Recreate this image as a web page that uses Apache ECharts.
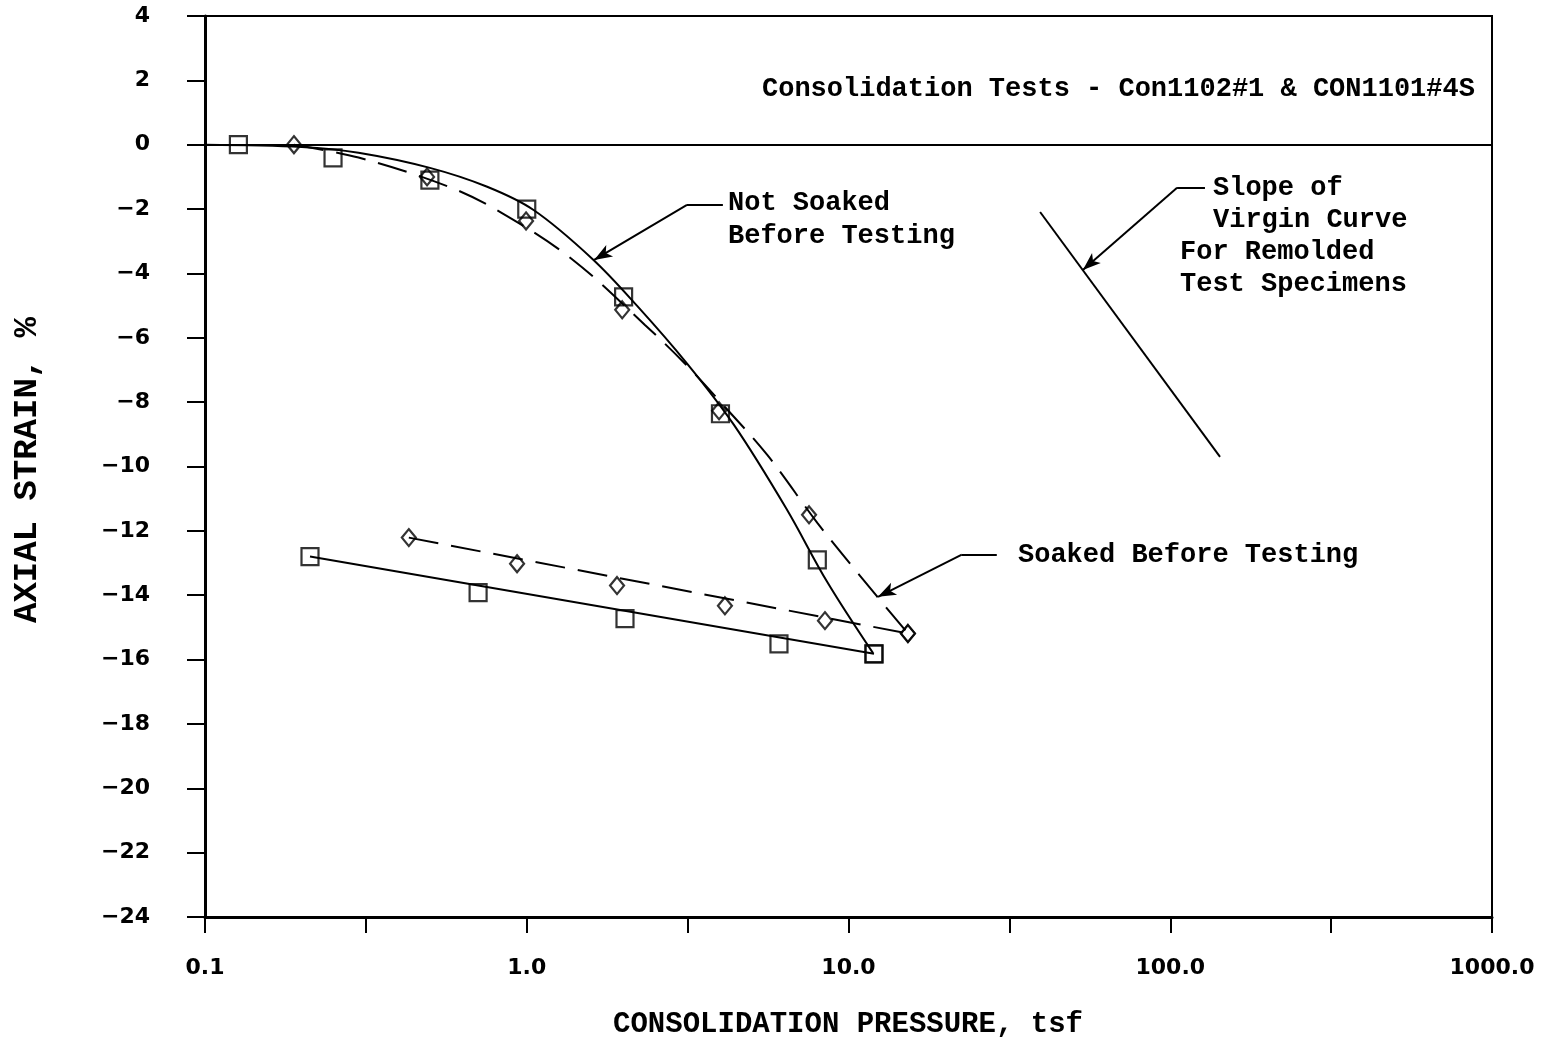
<!DOCTYPE html>
<html><head><meta charset="utf-8">
<script src="https://cdn.jsdelivr.net/npm/echarts@6/dist/echarts.min.js"></script>
<style>html,body{margin:0;padding:0;background:#fff}#c{width:1547px;height:1040px}</style>
</head><body><div id="c"></div>
<script>
// ---- data ----
// Con1102#1 (squares): loading and rebound test points
const sqLoadX = [0.127, 0.25, 0.5, 1.0, 2.0, 4.0, 8.0, 12.0];
const sqLoadY = [0, -0.41, -1.1, -2.0, -4.73, -8.36, -12.9, -15.82];
const sqUnloadX = [0.212, 0.706, 2.02, 6.08, 12.0];
const sqUnloadY = [-12.8, -13.92, -14.73, -15.51, -15.82];
// CON1101#4S (diamonds)
const dmLoadX = [0.189, 0.49, 0.995, 1.98, 3.96, 7.54, 15.3];
const dmLoadY = [0, -1.0, -2.37, -5.13, -8.27, -11.5, -15.19];
const dmUnloadX = [0.43, 0.933, 1.908, 4.13, 8.45, 15.3];
const dmUnloadY = [-12.21, -13.02, -13.7, -14.33, -14.79, -15.19];
// hand-fitted curves (solid = squares, dashed = diamonds)
const solidCurveX = [0.1, 0.2, 0.3, 0.5, 0.75, 1.05, 1.6, 2.2, 3.15, 4.4, 6.4, 8.6, 11.92];
const solidCurveY = [0, -0.07, -0.25, -0.72, -1.3, -2.03, -3.55, -5.0, -6.8, -8.7, -11.3, -13.6, -15.8];
const dashCurveX = [0.189, 0.3, 0.57, 0.83, 1.38, 2.33, 3.1, 4.13, 5.6, 8.0, 10.6, 15.3];
const dashCurveY = [0, -0.4, -1.3, -2.1, -3.55, -5.6, -6.8, -8.15, -9.65, -11.75, -13.27, -15.19];
const solidReboundX = [0.212, 12.0];
const solidReboundY = [-12.8, -15.82];
const dashReboundX = [0.43, 15.3];
const dashReboundY = [-12.21, -15.19];
// slope of virgin curve for remolded specimens
const virginX = [39.4, 142.8];
const virginY = [-2.09, -9.70];
// leader arrows: [kneeX, kneeY, tailX, tipX, tipY]
const arrowNotSoaked = [3.148, -1.87, 4.07, 1.62, -3.58];
const arrowSoaked = [22.5, -12.74, 28.9, 12.35, -14.05];
const arrowVirgin = [105, -1.34, 128.2, 53.5, -3.89];
// tick labels / tick positions
const xTickLabels = ['0.1', '1.0', '10.0', '100.0', '1000.0'];
const xHalfDecadeStep = 0.5; // tick every half decade (in log10 units)
const yMin = -24, yMax = 4, yStep = 2;

const pairs = (xs, ys) => xs.map((x, i) => [x, ys[i]]);
const BLK = '#000';
const MONO = '"Liberation Mono", "DejaVu Sans Mono", monospace';
const SANS = '"DejaVu Sans", sans-serif';

function leader(a) {
  return [
    [{coord: [a[2], a[1]], symbol: 'none'}, {coord: [a[0], a[1]], symbol: 'none'}],
    [{coord: [a[0], a[1]], symbol: 'none'}, {coord: [a[3], a[4]], symbol: 'arrow', symbolSize: [10, 18]}]
  ];
}

const chart = echarts.init(document.getElementById('c'), null, {renderer: 'canvas'});
const markerSq = {symbol: 'rect', symbolSize: 17, itemStyle: {color: 'rgba(255,255,255,0)', borderColor: BLK, borderWidth: 2.2}};
const markerDm = {symbol: 'diamond', symbolSize: [14, 17], itemStyle: {color: 'rgba(255,255,255,0)', borderColor: BLK, borderWidth: 2.2}};
const LBL = '27px ';

const option = {
  animation: false,
  backgroundColor: '#fff',
  grid: {left: 205, right: 55, top: 16, bottom: 123, show: true, borderColor: BLK, borderWidth: 2, backgroundColor: 'transparent'},
  xAxis: [{
    type: 'log', logBase: 10, min: 0.1, max: 1000,
    axisLine: {show: true, onZero: false, lineStyle: {color: BLK, width: 3}},
    axisTick: {show: true, inside: false, length: 16, lineStyle: {color: BLK, width: 2}},
    minorTick: {show: false},
    splitLine: {show: false},
    axisLabel: {margin: 40, color: BLK, fontFamily: SANS, fontWeight: 'bold', fontSize: 22,
      formatter: v => xTickLabels[Math.round(Math.log10(v)) + 1] || ''}
  }, {
    // same scale expressed as log10(pressure): only used for the half-decade ticks
    type: 'value', position: 'bottom', min: -1, max: 3, interval: xHalfDecadeStep,
    axisLine: {show: false, onZero: false}, axisLabel: {show: false}, splitLine: {show: false},
    axisTick: {show: true, inside: false, length: 16, lineStyle: {color: BLK, width: 2}}
  }],
  yAxis: {
    type: 'value', min: yMin, max: yMax, interval: yStep,
    axisLine: {show: true, onZero: false, lineStyle: {color: BLK, width: 3}},
    axisTick: {show: true, inside: false, length: 18, lineStyle: {color: BLK, width: 2}},
    splitLine: {show: false},
    axisLabel: {margin: 55, color: BLK, fontFamily: SANS, fontWeight: 'bold', fontSize: 22,
      formatter: v => String(v).replace('-', '\u2212')}
  },
  series: [
    {type: 'line', data: pairs(solidCurveX, solidCurveY), smooth: 0.35, showSymbol: false,
      lineStyle: {color: BLK, width: 2}, z: 3,
      markLine: {silent: true, symbol: ['none', 'none'], label: {show: false},
        lineStyle: {color: BLK, width: 2, type: 'solid'}, data: [{yAxis: 0}]}},
    {type: 'line', data: pairs(dashCurveX, dashCurveY), smooth: 0.35, showSymbol: false,
      lineStyle: {color: BLK, width: 2, type: [30, 13]}, z: 3},
    {type: 'line', data: pairs(solidReboundX, solidReboundY), showSymbol: false, lineStyle: {color: BLK, width: 2}, z: 3},
    {type: 'line', data: pairs(dashReboundX, dashReboundY), showSymbol: false, lineStyle: {color: BLK, width: 2, type: [30, 13]}, z: 3},
    {type: 'line', data: pairs(virginX, virginY), showSymbol: false, lineStyle: {color: BLK, width: 2}, z: 3,
      markLine: {silent: true, symbol: ['none', 'none'], label: {show: false},
        lineStyle: {color: BLK, width: 2, type: 'solid'},
        data: [].concat(leader(arrowNotSoaked), leader(arrowSoaked), leader(arrowVirgin))}},
    Object.assign({type: 'scatter', data: pairs(sqLoadX, sqLoadY).concat(pairs(sqUnloadX, sqUnloadY)), z: 5}, markerSq),
    Object.assign({type: 'scatter', data: pairs(dmLoadX, dmLoadY).concat(pairs(dmUnloadX, dmUnloadY)), z: 5}, markerDm)
  ],
  graphic: [
    {type: 'text', x: 762, y: 89, style: {text: 'Consolidation Tests - Con1102#1 & CON1101#4S', font: 'bold ' + LBL + MONO, fill: BLK, verticalAlign: 'middle'}},
    {type: 'text', x: 728, y: 203, style: {text: 'Not Soaked', font: 'bold ' + LBL + MONO, fill: BLK, verticalAlign: 'middle'}},
    {type: 'text', x: 728, y: 236, style: {text: 'Before Testing', font: 'bold ' + LBL + MONO, fill: BLK, verticalAlign: 'middle'}},
    {type: 'text', x: 1018, y: 555, style: {text: 'Soaked Before Testing', font: 'bold ' + LBL + MONO, fill: BLK, verticalAlign: 'middle'}},
    {type: 'text', x: 1213, y: 188, style: {text: 'Slope of', font: 'bold ' + LBL + MONO, fill: BLK, verticalAlign: 'middle'}},
    {type: 'text', x: 1213, y: 220, style: {text: 'Virgin Curve', font: 'bold ' + LBL + MONO, fill: BLK, verticalAlign: 'middle'}},
    {type: 'text', x: 1180, y: 252, style: {text: 'For Remolded', font: 'bold ' + LBL + MONO, fill: BLK, verticalAlign: 'middle'}},
    {type: 'text', x: 1180, y: 284, style: {text: 'Test Specimens', font: 'bold ' + LBL + MONO, fill: BLK, verticalAlign: 'middle'}},
    {type: 'text', x: 848, y: 1025, style: {text: 'CONSOLIDATION PRESSURE, tsf', font: 'bold 29px ' + MONO, fill: BLK, align: 'center', verticalAlign: 'middle'}},
    {type: 'text', x: 27, y: 470, rotation: Math.PI / 2, style: {text: 'AXIAL STRAIN, %', font: 'bold 34px ' + MONO, fill: BLK, align: 'center', verticalAlign: 'middle'}}
  ]
};
chart.setOption(option);
</script></body></html>
